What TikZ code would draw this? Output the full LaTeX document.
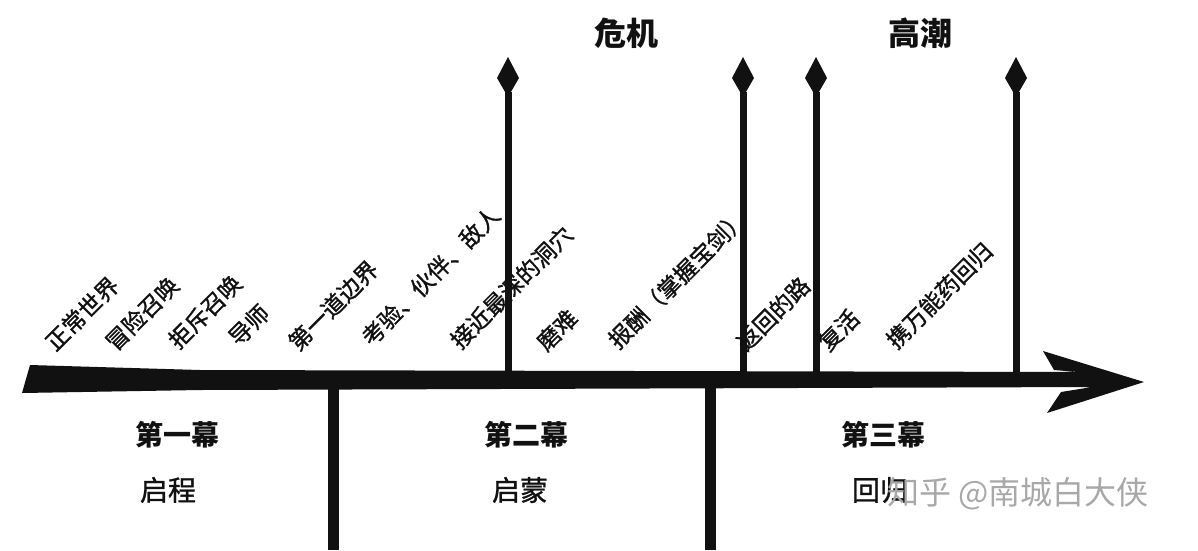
\documentclass[tikz,border=0pt]{standalone}
\usepackage{fontspec}
\setmainfont{Noto Sans CJK SC}
\definecolor{ink}{HTML}{111111}
\definecolor{wmgray}{HTML}{A8A8A8}

\begin{document}
\begin{tikzpicture}[x=1pt, y=-1pt,
  beat/.style={font=\fontsize{23}{23}\selectfont\addfontfeatures{FakeBold=1.2}, text=ink, anchor=south west, rotate=45, inner sep=0pt},
  actname/.style={font=\fontsize{28}{28}\selectfont\bfseries, text=ink, inner sep=0pt},
  phase/.style={font=\fontsize{28}{28}\selectfont\addfontfeatures{FakeBold=1.2}, text=ink, inner sep=0pt},
  peak/.style={font=\fontsize{32}{32}\selectfont\bfseries, text=ink, inner sep=0pt},
  spike/.style={ink, line width=7pt},
  wall/.style={ink, line width=11pt}]

\useasboundingbox (0,0) rectangle (1198,550);

% --- Beats along the line (spikes are drawn over them) ---
\node[beat] (normal) at (57,354) {正常世界};
\node[beat] (call) at (117,354) {冒险召唤};
\node[beat] (refuse) at (180,352) {拒斥召唤};
\node[beat] (mentor) at (240,349) {导师};
\node[beat] (threshold) at (300,354) {第一道边界};
\node[beat] (tests) at (373,349) {考验、伙伴、敌人};
\node[beat] (cave) at (462,352) {接近最深的洞穴};
\node[beat] (ordeal) at (548,354) {磨难};
\node[beat] (reward) at (620,352) {报酬（掌握宝剑）};
\node[beat] (road) at (748,354) {返回的路};
\node[beat] (revive) at (830,354) {复活};
\node[beat] (elixir) at (898,352) {携万能药回归};

% --- Main line with open arrowhead ---
\fill[ink] (22,393) -- (30,365) -- (200,370) -- (1078,372) -- (1054,370) -- (1043,351)
  -- (1144,382) -- (1047,413) -- (1061,392) -- (1092,387) -- (200,390) -- cycle;

% --- Act dividers ---
\draw[wall] (333,385) -- (333,550);
\draw[wall] (710,385) -- (710,550);

% --- Spikes with diamond tips ---
\draw[spike] (508,378) -- (508,92);
\fill[ink] (508,57) -- (519,78) -- (508,97) -- (497,78) -- cycle;
\draw[spike] (743,378) -- (743,92);
\fill[ink] (743,57) -- (754,78) -- (743,97) -- (732,78) -- cycle;
\draw[spike] (816,378) -- (816,92);
\fill[ink] (816,57) -- (827,78) -- (816,97) -- (805,78) -- cycle;
\draw[spike] (1016,378) -- (1016,92);
\fill[ink] (1016,57) -- (1027,78) -- (1016,97) -- (1005,78) -- cycle;

\node[peak] (crisis) at (626,33) {危机};
\node[peak] (climax) at (920,33) {高潮};

% --- Acts ---
\node[actname] (act1) at (177,435) {第一幕};
\node[phase] (depart) at (168,490) {启程};
\node[actname] (act2) at (526,435) {第二幕};
\node[phase] (initiate) at (520,490) {启蒙};
\node[actname] (act3) at (883,435) {第三幕};
\node[phase] (return) at (880,490) {回归};

% watermark
\node[font=\fontsize{32}{32}\selectfont, text=wmgray] (wm) at (1018,494) {知乎 @南城白大侠};

\end{tikzpicture}
\end{document}
